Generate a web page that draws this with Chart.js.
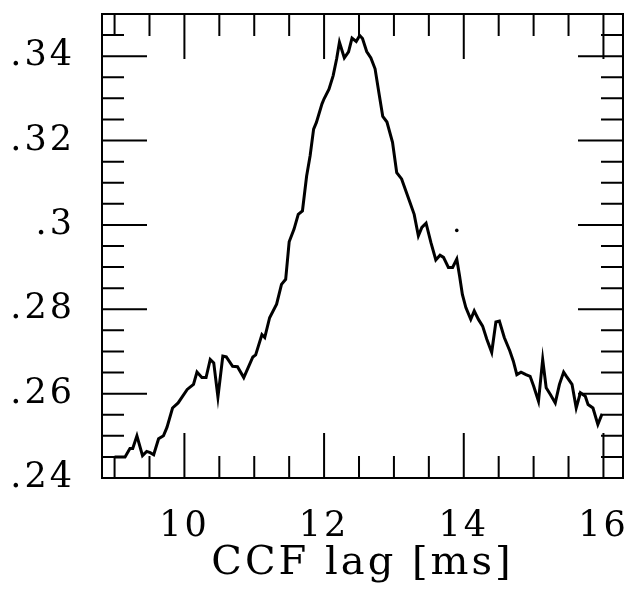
<!DOCTYPE html>
<html>
<head>
<meta charset="utf-8">
<script src="https://cdn.jsdelivr.net/npm/chart.js@4/dist/chart.umd.min.js"></script>
<style>
    html, body { margin: 0; padding: 0; background: #fff; }
    canvas { display: block; }
</style>
</head>
<body>
<canvas id="ccfChart" width="630" height="592"></canvas>
<script>
/* CCF vs lag */

// curve samples: lag (ms) and CCF value
const LAG_MS = [
    9.00, 9.15, 9.22, 9.26, 9.32, 9.40, 9.46, 9.51, 9.56, 9.63,
    9.70, 9.75, 9.83, 9.91, 10.04, 10.13, 10.18, 10.25, 10.31, 10.37,
    10.42, 10.48, 10.55, 10.60, 10.69, 10.76, 10.85, 10.98, 11.02, 11.11,
    11.15, 11.22, 11.32, 11.39, 11.45, 11.50, 11.57, 11.63, 11.69, 11.75,
    11.80, 11.85, 11.89, 11.97, 12.00, 12.07, 12.13, 12.18, 12.22, 12.29,
    12.35, 12.40, 12.46, 12.51, 12.55, 12.61, 12.67, 12.73, 12.79, 12.84,
    12.90, 12.98, 13.04, 13.11, 13.17, 13.23, 13.29, 13.35, 13.40, 13.46,
    13.53, 13.60, 13.66, 13.71, 13.78, 13.84, 13.90, 13.94, 13.98, 14.03,
    14.10, 14.15, 14.21, 14.27, 14.33, 14.40, 14.46, 14.51, 14.58, 14.66,
    14.71, 14.76, 14.82, 14.89, 14.95, 15.00, 15.07, 15.13, 15.18, 15.24,
    15.31, 15.37, 15.43, 15.47, 15.55, 15.61, 15.67, 15.74, 15.78, 15.85,
    15.92, 15.98
];
const CCF = [
    0.2450, 0.2450, 0.2470, 0.2470, 0.2500, 0.2453, 0.2463, 0.2460, 0.2455, 0.2493,
    0.2500, 0.2520, 0.2566, 0.2578, 0.2610, 0.2622, 0.2651, 0.2638, 0.2638, 0.2681,
    0.2673, 0.2592, 0.2689, 0.2687, 0.2665, 0.2664, 0.2638, 0.2687, 0.2692, 0.2740,
    0.2733, 0.2780, 0.2812, 0.2859, 0.2871, 0.2960, 0.2990, 0.3025, 0.3033, 0.3116,
    0.3164, 0.3227, 0.3243, 0.3287, 0.3299, 0.3322, 0.3354, 0.3394, 0.3433, 0.3396,
    0.3410, 0.3443, 0.3435, 0.3449, 0.3442, 0.3411, 0.3396, 0.3370, 0.3308, 0.3257,
    0.3244, 0.3196, 0.3124, 0.3109, 0.3081, 0.3053, 0.3025, 0.2974, 0.2994, 0.3004,
    0.2958, 0.2917, 0.2928, 0.2923, 0.2899, 0.2899, 0.2919, 0.2879, 0.2835, 0.2804,
    0.2776, 0.2796, 0.2776, 0.2760, 0.2729, 0.2698, 0.2770, 0.2772, 0.2733, 0.2701,
    0.2677, 0.2645, 0.2651, 0.2645, 0.2641, 0.2618, 0.2582, 0.2681, 0.2614, 0.2598,
    0.2578, 0.2622, 0.2651, 0.2641, 0.2622, 0.2566, 0.2602, 0.2594, 0.2574, 0.2566,
    0.2527, 0.2552
];

// the lone speck right of the curve near 13.9 ms
const SPECK_LAG = [13.90];
const SPECK_CCF = [0.2987];

// axes
const X_MIN = 8.82, X_MAX = 16.28;
const Y_MIN = 0.24, Y_MAX = 0.35;
const X_LABELS = [10, 12, 14, 16];
const Y_LABELS = [0.24, 0.26, 0.28, 0.30, 0.32, 0.34];
const X_MINOR = 0.5, Y_MINOR = 0.005;
const MAJOR_LEN = 45, MINOR_LEN = 22;

const FONT = "'DejaVu Serif', 'Liberation Serif', serif";

function steps(from, to, step) {
    const out = [];
    for (let v = from; v <= to + 1e-9; v += step) out.push(Math.round(v * 1e4) / 1e4);
    return out;
}
const X_TICKS = steps(9, 16, X_MINOR);
const Y_TICKS = steps(Y_MIN, Y_MAX, Y_MINOR);

const isIn = (list, v) => list.some(l => Math.abs(l - v) < 1e-6);

// the scanned lettering is wider than DejaVu, open it up a bit
const wideText = {
    id: "wideText",
    beforeDraw(chart) { chart.ctx.letterSpacing = "3px"; },
    afterDraw(chart) { chart.ctx.letterSpacing = "0px"; },
};

// frame + inward ticks on all four sides
const frameTicks = {
    id: "frameTicks",
    beforeDatasetsDraw(chart) {
        const { ctx, chartArea: a, scales: { x, y } } = chart;
        ctx.save();
        ctx.strokeStyle = "#000";
        ctx.lineWidth = 2;
        ctx.strokeRect(a.left, a.top, a.right - a.left, a.bottom - a.top);
        ctx.beginPath();
        x.ticks.forEach(t => {
            const px = x.getPixelForValue(t.value);
            const len = isIn(X_LABELS, t.value) ? MAJOR_LEN : MINOR_LEN;
            ctx.moveTo(px, a.bottom); ctx.lineTo(px, a.bottom - len);
            ctx.moveTo(px, a.top);    ctx.lineTo(px, a.top + len);
        });
        y.ticks.forEach(t => {
            const py = y.getPixelForValue(t.value);
            const len = isIn(Y_LABELS, t.value) ? MAJOR_LEN : MINOR_LEN;
            ctx.moveTo(a.left, py);  ctx.lineTo(a.left + len, py);
            ctx.moveTo(a.right, py); ctx.lineTo(a.right - len, py);
        });
        ctx.stroke();
        ctx.restore();
    },
};

new Chart(document.getElementById("ccfChart"), {
    type: "line",
    data: {
        datasets: [
            {
                data: LAG_MS.map((x, i) => ({ x, y: CCF[i] })),
                borderColor: "#000",
                borderWidth: 3,
                pointRadius: 0,
                tension: 0,
                fill: false,
            },
            {
                type: "scatter",
                data: SPECK_LAG.map((x, i) => ({ x, y: SPECK_CCF[i] })),
                backgroundColor: "#000",
                borderWidth: 0,
                pointRadius: 1.8,
            },
        ],
    },
    options: {
        responsive: false,
        animation: false,
        layout: { padding: { top: 14, right: 7, left: 0, bottom: 0 } },
        plugins: { legend: { display: false }, tooltip: { enabled: false } },
        scales: {
            x: {
                type: "linear",
                min: X_MIN,
                max: X_MAX,
                afterBuildTicks: ax => { ax.ticks = X_TICKS.map(v => ({ value: v })); },
                afterFit: ax => {
                    ax.height = 114;
                    ax.paddingLeft = 0;
                    ax.paddingRight = 0;
                },
                grid: { display: false, drawTicks: false },
                border: { display: false },
                ticks: {
                    autoSkip: false,
                    maxRotation: 0,
                    padding: 28,
                    color: "#000",
                    font: { family: FONT, size: 35 },
                    callback: v => isIn(X_LABELS, v) ? String(Math.round(v)) : "",
                },
                title: {
                    display: true,
                    text: "CCF lag [ms]",
                    color: "#000",
                    font: { family: FONT, size: 40 },
                    padding: { top: 0, bottom: 4 },
                },
            },
            y: {
                type: "linear",
                min: Y_MIN,
                max: Y_MAX,
                afterBuildTicks: ax => { ax.ticks = Y_TICKS.map(v => ({ value: v })); },
                afterFit: ax => {
                    ax.width = 102;
                    ax.paddingTop = 0;
                    ax.paddingBottom = 0;
                },
                grid: { display: false, drawTicks: false },
                border: { display: false },
                ticks: {
                    autoSkip: false,
                    padding: 27,
                    color: "#000",
                    font: { family: FONT, size: 35 },
                    callback: v => isIn(Y_LABELS, v)
                        ? String(Number(v.toFixed(2))).replace(/^0/, "")
                        : "",
                },
            },
        },
    },
    plugins: [wideText, frameTicks],
});
</script>
</body>
</html>
